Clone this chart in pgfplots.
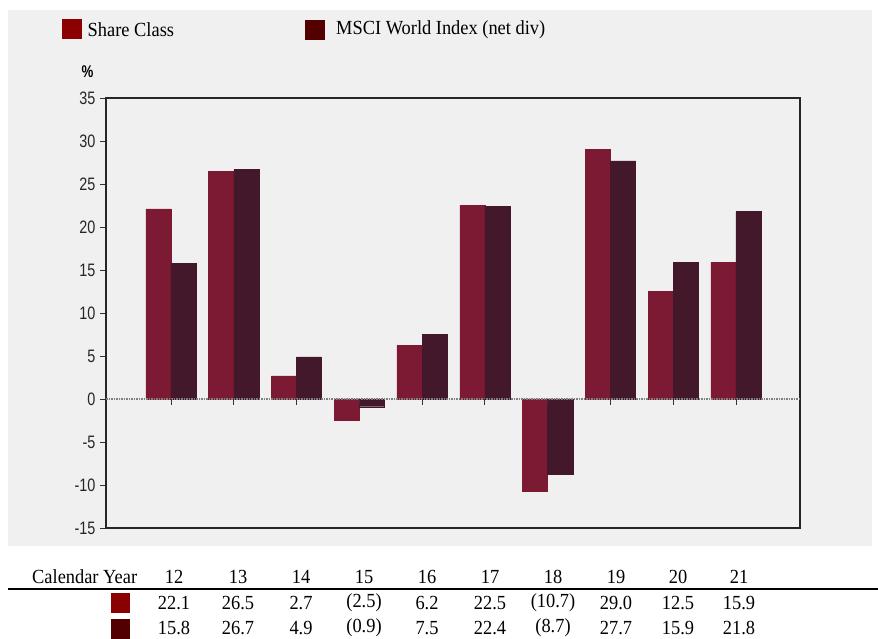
\documentclass[border=0pt]{standalone}
\usepackage{fontspec}
\setmainfont{Liberation Serif}
\setsansfont{Liberation Sans}
\usepackage{pgfplots}
\pgfplotsset{compat=1.18}
\definecolor{shareC}{HTML}{7C1933}
\definecolor{msciC}{HTML}{43182A}
\definecolor{legA}{HTML}{8B0000}
\definecolor{legB}{HTML}{520000}
\definecolor{bgC}{HTML}{F0F0F0}
\newcommand{\tx}[1]{\scalebox{0.92}[1]{#1}}
\begin{document}
\begin{tikzpicture}[x=1pt,y=1pt]
\path[use as bounding box] (0,0) rectangle (878,639);
\fill[bgC] (8,93) rectangle (872,629);
% legend
\fill[legA] (62,600) rectangle (81.5,620);
\node[anchor=west,inner sep=0,font=\fontsize{20}{22}\selectfont] at (87.5,609.5) {\tx{Share Class}};
\fill[legB] (305,599) rectangle (324.5,619);
\node[anchor=west,inner sep=0,font=\fontsize{20}{22}\selectfont] at (336,609.5) {\tx{MSCI World Index (net div)}};
\node[inner sep=0,font=\sffamily\bfseries\fontsize{17}{19}\selectfont] at (87.5,567.5) {\scalebox{0.78}[1]{\%}};
\begin{axis}[
  at={(106pt,111pt)}, anchor=south west,
  width=694pt, height=430pt, scale only axis,
  xmin=-1.035, xmax=10.02, ymin=-15, ymax=35,
  ytick={-15,-10,...,35},
  xtick=\empty,
  axis line style={black!85, line width=1.8pt},
  tick style={black!80, line width=0.8pt},
  major tick length=6pt,
  tick align=outside,
  ytick pos=left,
  /pgf/number format/assume math mode=true,
  yticklabel={\scalebox{0.8}[1]{\pgfmathprintnumber{\tick}}},
  yticklabel style={font=\sffamily\fontsize{18}{20}\selectfont, xshift=-1pt, text=black!85},
  axis background/.style={fill=bgC},
  ybar, bar width=0.4,
]
\addplot[fill=shareC, draw=shareC, bar shift=-0.2] coordinates {
 (0,22.1) (1,26.5) (2,2.7) (3,-2.5) (4,6.2) (5,22.5) (6,-10.7) (7,29.0) (8,12.5) (9,15.9)};
\addplot[fill=msciC, draw=msciC, bar shift=0.2] coordinates {
 (0,15.8) (1,26.7) (2,4.9) (3,-0.9) (4,7.5) (5,22.4) (6,-8.7) (7,27.7) (8,15.9) (9,21.8)};
\draw[gray, densely dotted, line width=1.5pt] (axis cs:-1.035,0) -- (axis cs:10.02,0);
\pgfplotsinvokeforeach{0,...,9}{\draw[black!80, line width=0.8pt] (axis cs:#1,0) -- ([yshift=-6pt]axis cs:#1,0);}
\end{axis}
% table
\begin{scope}[every node/.style={inner sep=0, font=\fontsize{20}{22}\selectfont}]
\node[anchor=west] at (32,62) {\tx{Calendar Year}};
\foreach \xx/\lab/\a/\b in {174/12/22.1/15.8, 238/13/26.5/26.7, 301/14/2.7/4.9, 364/15/(2.5)/(0.9), 427/16/6.2/7.5, 490/17/22.5/22.4, 553/18/(10.7)/(8.7), 616/19/29.0/27.7, 678/20/12.5/15.9, 739/21/15.9/21.8}{
  \node at (\xx,62) {\tx{\lab}};
  \node at (\xx,36) {\tx{\a}};
  \node at (\xx,11) {\tx{\b}};
}
\end{scope}
\draw[black, line width=1.6pt] (8,50) -- (878,50);
\fill[legA] (111,26) rectangle (130,46);
\fill[legB] (111,0) rectangle (130,20);
\end{tikzpicture}
\end{document}
